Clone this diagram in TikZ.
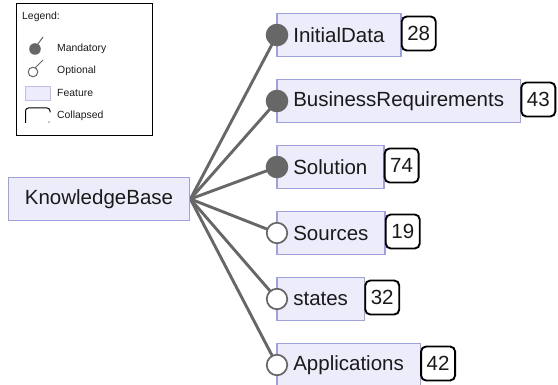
\documentclass[tikz,border=0pt]{standalone}
\usepackage{fontspec}
\setmainfont{Liberation Sans}
\usetikzlibrary{backgrounds}
\definecolor{featfill}{HTML}{ECECFB}
\definecolor{featdraw}{HTML}{A0A0DA}
\definecolor{conngray}{HTML}{676767}
\definecolor{txt}{HTML}{1A1A1A}
\tikzset{
  feat/.style={draw=featdraw, fill=featfill, line width=1.6pt, inner xsep=16.5pt, inner ysep=0pt,
    minimum height=43pt, font=\fontsize{20.5}{24}\selectfont, text=txt},
  cnt/.style={draw=black, fill=white, line width=1.9pt, rounded corners=5pt, minimum width=34pt,
    minimum height=34pt, inner sep=0pt, font=\fontsize{20.5}{24}\selectfont, text=txt},
  mand/.style={circle, fill=conngray, draw=conngray, line width=1pt, minimum size=21.5pt, inner sep=0pt},
  opt/.style={circle, fill=white, draw=conngray, line width=1.7pt, minimum size=20.5pt, inner sep=0pt},
  conn/.style={draw=conngray, line width=2.9pt},
  legtext/.style={anchor=west, font=\fontsize{10.4}{12}\selectfont, text=txt, inner sep=0pt},
}
\begin{document}
\begin{tikzpicture}[x=1pt, y=-1pt]
\useasboundingbox (0,0) rectangle (558,385);
% legend
\node[draw=black, line width=1pt, minimum width=136pt, minimum height=132pt, inner sep=0pt] (legend) at (84,70) {};
\node[legtext] (lgtitle) at (22,17) {Legend:};
\node[legtext] (lgm) at (57,49) {Mandatory};
\node[legtext] (lgo) at (57,71) {Optional};
\node[legtext] (lgf) at (57,93) {Feature};
\node[legtext] (lgc) at (57,116) {Collapsed};
\draw[draw=conngray, line width=1pt] (35,48) -- (43,37);
\fill[conngray] (35,49) circle (5.8pt);
\draw[draw=conngray, line width=1pt] (35,68) -- (43,60);
\draw[draw=conngray, line width=1pt, fill=white] (33,72) circle (4.8pt);
\node[draw=featdraw!70, fill=featfill, line width=0.8pt, minimum width=25pt, minimum height=14pt, inner sep=0pt] (lgfeat) at (37.5,93) {};
\draw[line width=1pt, black] (25.5,123) -- (25.5,111) arc[start angle=180, end angle=90, radius=3pt] -- (47,108) arc[start angle=90, end angle=0, radius=3pt] -- (50,112.5);
\fill[black] (49,122) circle (0.7pt);
% root
\node[feat] (root) at (99,199) {KnowledgeBase};
% features
\node[feat, anchor=west] (f1) at (276,35) {InitialData};
\node[feat, anchor=west] (f2) at (276,101) {BusinessRequirements};
\node[feat, anchor=west] (f3) at (276,167) {Solution};
\node[feat, anchor=west] (f4) at (276,233) {Sources};
\node[feat, anchor=west] (f5) at (276,299) {states};
\node[feat, anchor=west] (f6) at (276,365) {Applications};
% circles
\node[mand] (m1) at ([xshift=1pt]f1.west) {};
\node[mand] (m2) at ([xshift=1pt]f2.west) {};
\node[mand] (m3) at ([xshift=1pt]f3.west) {};
\node[opt] (o4) at ([xshift=1pt]f4.west) {};
\node[opt] (o5) at ([xshift=1pt]f5.west) {};
\node[opt] (o6) at ([xshift=1pt]f6.west) {};
% counters
\node[cnt, anchor=west] (c1) at ([xshift=-1pt,yshift=1.5pt]f1.east) {28};
\node[cnt, anchor=west] (c2) at ([xshift=-1pt,yshift=1.5pt]f2.east) {43};
\node[cnt, anchor=west] (c3) at ([xshift=-1pt,yshift=1.5pt]f3.east) {74};
\node[cnt, anchor=west] (c4) at ([xshift=-1pt,yshift=1.5pt]f4.east) {19};
\node[cnt, anchor=west] (c5) at ([xshift=-1pt,yshift=1.5pt]f5.east) {32};
\node[cnt, anchor=west] (c6) at ([xshift=-1pt,yshift=1.5pt]f6.east) {42};
% connectors
\begin{pgfonlayer}{background}
\foreach \k in {m1,m2,m3,o4,o5,o6} {\draw[conn] (root.east) -- (\k.center);}
\end{pgfonlayer}
\end{tikzpicture}
\end{document}
